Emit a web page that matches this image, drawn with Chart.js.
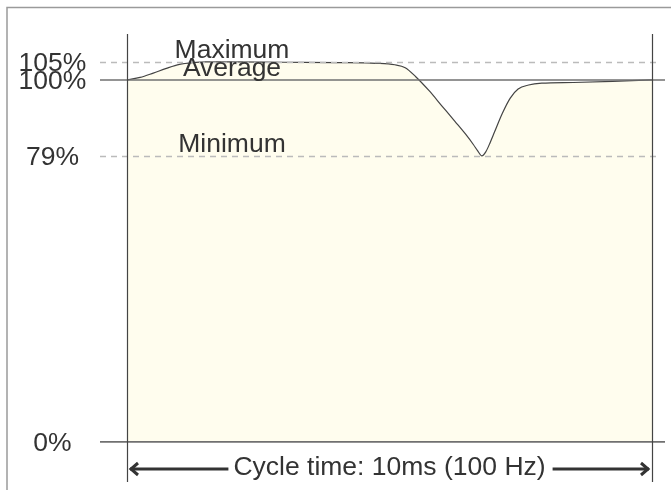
<!DOCTYPE html>
<html>
<head>
<meta charset="utf-8">
<script src="https://cdn.jsdelivr.net/npm/chart.js@4.4.1/dist/chart.umd.min.js"></script>
<style>
  body { margin: 0; background: #fff; }
</style>
</head>
<body>
<canvas id="myChart" width="671" height="490"></canvas>
<script>
const timeMs = [0, 0.25, 0.5, 0.75, 1.0, 1.25, 1.5, 2.0, 3.0, 4.0, 4.75, 5.1, 5.3, 5.5, 5.75, 6.0, 6.25, 6.45, 6.6, 6.68, 6.76, 6.84, 6.92, 7.0, 7.15, 7.3, 7.45, 7.65, 7.9, 8.5, 9.25, 10];
const loadPct = [100, 100.7, 101.9, 103.2, 104.3, 104.8, 105, 105, 104.9, 104.8, 104.6, 104.2, 103.4, 100.9, 97.1, 92.8, 88.5, 85.0, 82.1, 80.4, 79, 80.3, 82.8, 85.6, 90.8, 95.0, 97.5, 98.6, 99.1, 99.3, 99.6, 100];

const tickValues = [0, 79, 100, 105];
const tickLabels = ['0%', '79%', '100%', '105%'];
const solidLines = [0, 100];
const dashedLines = [79, 105];
const markerValues = [105, 100, 79];
const markerLabels = ['Maximum', 'Average', 'Minimum'];
const markerAt = 2;
const cycleLabel = 'Cycle time: 10ms (100 Hz)';

const FONT = '26.5px "Liberation Sans", Arial, sans-serif';
const TEXT = '#333';

// frame, reference lines, labels and the cycle arrow
const overlay = {
  id: 'overlay',
  beforeDraw(chart) {
    const c = chart.ctx;
    c.save();
    c.strokeStyle = '#9a9a9a';
    c.lineWidth = 1.5;
    c.beginPath();
    c.moveTo(7, chart.height);
    c.lineTo(7, 7.5);
    c.lineTo(chart.width, 7.5);
    c.stroke();
    c.restore();
  },
  afterDatasetsDraw(chart) {
    const c = chart.ctx;
    const x = chart.scales.x;
    const y = chart.scales.y;
    const area = chart.chartArea;
    c.save();

    c.strokeStyle = '#bbb';
    c.lineWidth = 1.3;
    c.setLineDash([6, 5]);
    dashedLines.forEach(function (v) {
      const py = Math.round(y.getPixelForValue(v)) + 0.5;
      c.beginPath();
      c.moveTo(area.left - 27, py);
      c.lineTo(area.right + 8, py);
      c.stroke();
    });
    c.setLineDash([]);

    c.strokeStyle = '#707070';
    c.lineWidth = 1.6;
    solidLines.forEach(function (v) {
      const py = y.getPixelForValue(v);
      c.beginPath();
      c.moveTo(area.left - 27, py);
      c.lineTo(area.right + 13, py);
      c.stroke();
    });

    c.strokeStyle = '#444';
    c.lineWidth = 1.2;
    [x.min, x.max].forEach(function (v) {
      const px = Math.round(x.getPixelForValue(v)) + 0.5;
      c.beginPath();
      c.moveTo(px, area.top);
      c.lineTo(px, area.bottom);
      c.stroke();
    });

    c.font = FONT;
    c.fillStyle = TEXT;
    c.textAlign = 'center';
    c.textBaseline = 'alphabetic';
    tickValues.forEach(function (v, i) {
      c.fillText(tickLabels[i], 52.5, y.getPixelForValue(v) + 9);
    });

    markerValues.forEach(function (v, i) {
      c.fillText(markerLabels[i], x.getPixelForValue(markerAt), y.getPixelForValue(v) - 4);
    });

    // cycle arrow
    const cx = (area.left + area.right) / 2;
    const ay = 469;
    const w = c.measureText(cycleLabel).width;
    c.fillText(cycleLabel, cx, ay + 6);
    c.strokeStyle = '#333';
    c.lineWidth = 3;
    c.lineJoin = 'miter';
    c.beginPath();
    c.moveTo(area.left + 3, ay);
    c.lineTo(cx - w / 2 - 5, ay);
    c.moveTo(cx + w / 2 + 7, ay);
    c.lineTo(area.right - 3, ay);
    c.stroke();
    c.beginPath();
    c.moveTo(area.left + 11, ay - 6);
    c.lineTo(area.left + 4, ay);
    c.lineTo(area.left + 11, ay + 6);
    c.moveTo(area.right - 11, ay - 6);
    c.lineTo(area.right - 4, ay);
    c.lineTo(area.right - 11, ay + 6);
    c.stroke();

    c.restore();
  }
};

const ctx = document.getElementById('myChart');
new Chart(ctx, {
  type: 'line',
  data: {
    datasets: [{
      data: timeMs.map(function (t, i) { return { x: t, y: loadPct[i] }; }),
      borderColor: '#444',
      borderWidth: 1.2,
      backgroundColor: '#fffdee',
      fill: 'origin',
      pointRadius: 0,
      cubicInterpolationMode: 'monotone'
    }]
  },
  options: {
    responsive: false,
    animation: false,
    layout: {
      padding: { left: 127, right: 19, top: 34, bottom: 8 }
    },
    plugins: {
      legend: { display: false },
      tooltip: { enabled: false }
    },
    scales: {
      x: { type: 'linear', min: 0, max: 10, display: false },
      y: { min: -11.1, max: 112.7, display: false }
    }
  },
  plugins: [overlay]
});
</script>
</body>
</html>
